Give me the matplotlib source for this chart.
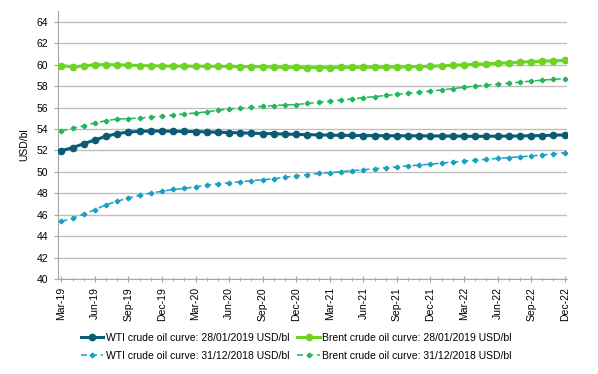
import matplotlib.pyplot as plt
import pandas as pd

months = pd.date_range("2019-03-01", "2022-12-01", freq="MS").strftime("%b-%y").tolist()

wti_new = [51.98, 52.26, 52.63, 52.98, 53.32, 53.57, 53.72, 53.78, 53.81, 53.81,
           53.79, 53.77, 53.76, 53.73, 53.70, 53.67, 53.64, 53.61, 53.58, 53.56,
           53.53, 53.50, 53.47, 53.45, 53.43, 53.41, 53.40, 53.39, 53.38, 53.37,
           53.37, 53.36, 53.36, 53.35, 53.35, 53.34, 53.33, 53.32, 53.32, 53.33,
           53.34, 53.35, 53.37, 53.39, 53.42, 53.45]
brent_new = [59.90, 59.78, 59.87, 59.98, 59.99, 59.98, 59.94, 59.91, 59.88, 59.86,
             59.85, 59.85, 59.84, 59.84, 59.83, 59.82, 59.81, 59.80, 59.79, 59.77,
             59.75, 59.73, 59.72, 59.72, 59.72, 59.73, 59.73, 59.74, 59.75, 59.76,
             59.77, 59.79, 59.81, 59.84, 59.88, 59.93, 59.97, 60.02, 60.07, 60.12,
             60.17, 60.22, 60.27, 60.31, 60.35, 60.39]
wti_old = [45.40, 45.68, 46.08, 46.49, 46.95, 47.27, 47.58, 47.82, 48.04, 48.20,
           48.38, 48.47, 48.63, 48.75, 48.90, 49.00, 49.09, 49.19, 49.28, 49.37,
           49.50, 49.63, 49.76, 49.86, 49.94, 50.03, 50.12, 50.21, 50.30, 50.40,
           50.48, 50.56, 50.64, 50.73, 50.82, 50.92, 51.01, 51.10, 51.18, 51.26,
           51.34, 51.41, 51.49, 51.58, 51.68, 51.80]
brent_old = [53.81, 54.06, 54.31, 54.56, 54.78, 54.93, 54.97, 55.02, 55.12, 55.20,
             55.30, 55.40, 55.49, 55.60, 55.74, 55.86, 55.96, 56.02, 56.11, 56.18,
             56.24, 56.28, 56.38, 56.48, 56.60, 56.70, 56.80, 56.91, 57.02, 57.12,
             57.23, 57.33, 57.43, 57.53, 57.64, 57.76, 57.88, 58.00, 58.09, 58.18,
             58.26, 58.36, 58.46, 58.55, 58.62, 58.69]

plt.rcParams["font.family"] = ["Liberation Sans", "DejaVu Sans"]
plt.rcParams["font.size"] = 7.5

fig = plt.figure(figsize=(5.98, 3.74), dpi=100)
ax = fig.add_axes([0.097, 0.253, 0.851, 0.718])

x = list(range(len(months)))
l1, = ax.plot(x, wti_new, color="#0b5b75", lw=2.2, marker="o", ms=4.5,
              label="WTI crude oil curve: 28/01/2019 USD/bl", zorder=4)
l2, = ax.plot(x, brent_new, color="#6dd424", lw=2.2, marker="o", ms=4.5,
              label="Brent crude oil curve: 28/01/2019 USD/bl", zorder=4)
l3, = ax.plot(x, wti_old, color="#1aa0c0", lw=1.1, ls=(0, (4, 2.5)), marker="P", ms=3,
              label="WTI crude oil curve: 31/12/2018 USD/bl", zorder=3)
l4, = ax.plot(x, brent_old, color="#22b85a", lw=1.1, ls=(0, (4, 2.5)), marker="P", ms=3,
              label="Brent crude oil curve: 31/12/2018 USD/bl", zorder=3)

ax.set_ylim(40, 65)
ax.set_yticks(range(40, 65, 2))
ax.set_xlim(-0.3, 45.2)
ax.set_xticks(x[::3])
ax.set_xticklabels(months[::3], rotation=90)
ax.set_xticks(x, minor=True)
ax.set_ylabel("USD/bl", labelpad=5)

ax.grid(axis="y", color="#bfbfbf", lw=1)
ax.set_axisbelow(True)
for s in ["top", "right"]:
    ax.spines[s].set_visible(False)
for s in ["left", "bottom"]:
    ax.spines[s].set_color("#a6a6a6")
ax.tick_params(axis="y", length=3, color="#a6a6a6", pad=4)
ax.tick_params(axis="x", which="major", length=5, direction="inout", color="#a6a6a6", pad=3)
ax.tick_params(axis="x", which="minor", length=3, direction="inout", color="#a6a6a6")

ax.legend(handles=[l1, l3, l2, l4], loc="upper center", bbox_to_anchor=(0.468, -0.163),
          ncol=2, frameon=False, handlelength=2.2, handletextpad=0.2,
          columnspacing=0.8, labelspacing=0.8)

fig.savefig("out.png", dpi=100)
